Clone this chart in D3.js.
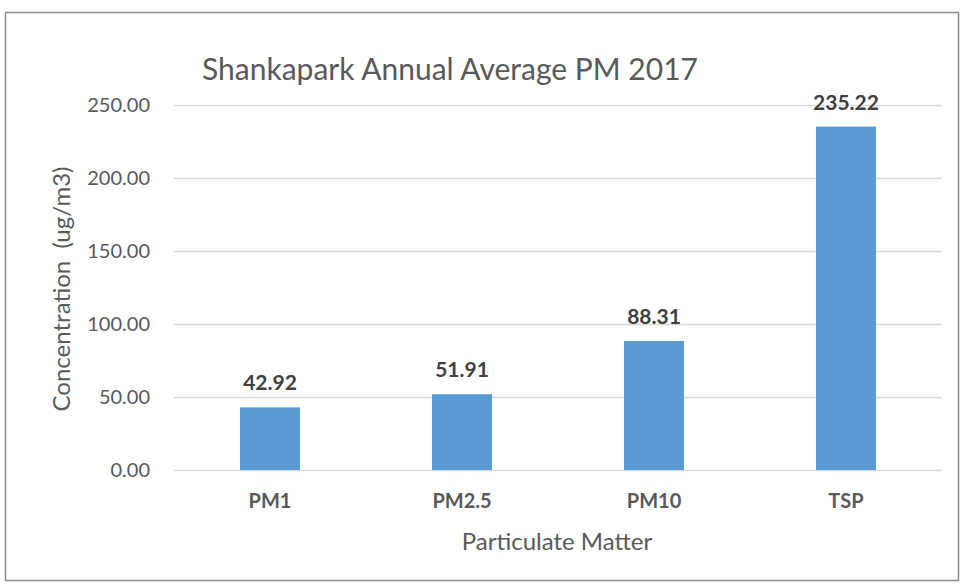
<!DOCTYPE html>
<html>
<head>
<meta charset="utf-8">
<script src="https://cdn.jsdelivr.net/npm/d3@7"></script>
<style>
  body { margin: 0; background: #fff; }
  text { font-family: Lato, "Open Sans", sans-serif; }
</style>
</head>
<body>
<div id="chart"></div>
<script>
// data
var categories = ["PM1", "PM2.5", "PM10", "TSP"];
var values = [42.92, 51.91, 88.31, 235.22];
var yTicks = [0, 50, 100, 150, 200, 250];

var W = 961, H = 586;
var plotLeft = 174, plotRight = 942, plotTop = 105, plotBottom = 470;

var svg = d3.select("#chart").append("svg")
  .attr("width", W)
  .attr("height", H);

// chart frame
svg.append("rect")
  .attr("x", 5.5).attr("y", 12.5)
  .attr("width", 953).attr("height", 568)
  .attr("fill", "#fff")
  .attr("stroke", "#8c8c8c")
  .attr("stroke-width", 1.5);

var x = d3.scaleBand()
  .domain(categories)
  .range([plotLeft, plotRight])
  .paddingInner(0.6875)
  .paddingOuter(0.34375);

var y = d3.scaleLinear()
  .domain([0, 250])
  .range([plotBottom, plotTop]);

// gridlines + y labels
var yAxis = svg.append("g")
  .attr("transform", "translate(" + plotLeft + ",0)")
  .call(d3.axisLeft(y).tickValues(yTicks).tickFormat(d3.format(".2f"))
    .tickSize(-(plotRight - plotLeft)).tickPadding(24));
yAxis.select(".domain").remove();
yAxis.selectAll("line").attr("stroke", "#d9d9d9").attr("stroke-width", 1.5);
yAxis.selectAll("text")
  .attr("fill", "#595959")
  .style("font-size", "20px");

// bars
svg.append("g").selectAll("rect")
  .data(values)
  .join("rect")
  .attr("x", function(d, i){ return x(categories[i]); })
  .attr("y", function(d){ return y(d); })
  .attr("width", x.bandwidth())
  .attr("height", function(d){ return y(0) - y(d); })
  .attr("fill", "#5b9bd5");

// value labels
svg.append("g").selectAll("text")
  .data(values)
  .join("text")
  .attr("x", function(d, i){ return x(categories[i]) + x.bandwidth() / 2; })
  .attr("y", function(d){ return y(d) - 17; })
  .attr("text-anchor", "middle")
  .attr("fill", "#404040")
  .style("font-size", "21px")
  .style("font-weight", "bold")
  .text(function(d){ return d3.format(".2f")(d); });

// category axis
var xAxis = svg.append("g")
  .attr("transform", "translate(0," + plotBottom + ")")
  .call(d3.axisBottom(x).tickSize(0).tickPadding(24));
xAxis.select(".domain").remove();
xAxis.selectAll("text")
  .attr("fill", "#595959")
  .style("font-size", "20px")
  .style("font-weight", "bold");

// titles
svg.append("text")
  .attr("x", 450).attr("y", 80)
  .attr("text-anchor", "middle")
  .attr("fill", "#595959")
  .style("font-size", "30px")
  .text("Shankapark Annual Average PM 2017");

svg.append("text")
  .attr("x", 557).attr("y", 550)
  .attr("text-anchor", "middle")
  .attr("fill", "#595959")
  .style("font-size", "24px")
  .text("Particulate Matter");

svg.append("text")
  .attr("transform", "translate(70,289) rotate(-90)")
  .attr("text-anchor", "middle")
  .attr("fill", "#595959")
  .style("font-size", "24px")
  .attr("xml:space", "preserve")
  .text("Concentration  (ug/m3)");
</script>
</body>
</html>
